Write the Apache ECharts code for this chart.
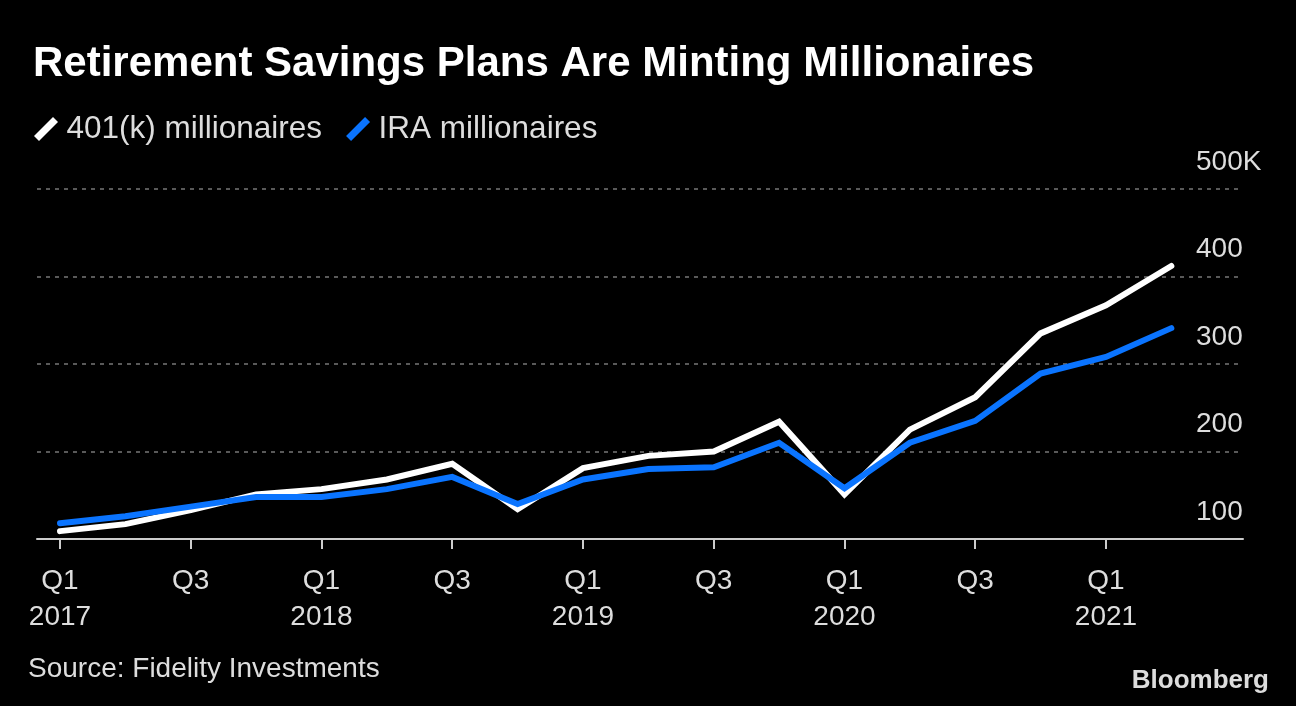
<!DOCTYPE html>
<html>
<head>
<meta charset="utf-8">
<script src="https://cdn.jsdelivr.net/npm/echarts@6/dist/echarts.min.js"></script>
<style>
  html, body { margin: 0; padding: 0; background: #000; }
  #chart { width: 1296px; height: 706px; }
</style>
</head>
<body>
<div id="chart"></div>
<script>
// ---- data ----
const quarters = ['Q1 2017','Q2 2017','Q3 2017','Q4 2017','Q1 2018','Q2 2018','Q3 2018','Q4 2018',
                  'Q1 2019','Q2 2019','Q3 2019','Q4 2019','Q1 2020','Q2 2020','Q3 2020','Q4 2020',
                  'Q1 2021','Q2 2021'];
const k401 = [109, 117, 133, 151, 157, 168, 186, 134, 181, 195, 200, 234, 151, 225, 262, 335, 367, 412];
const ira  = [118, 126, 137, 148, 148, 157, 171, 140, 168, 180, 182, 210, 158, 210, 235, 289, 308, 341];
const tickIdx = [0, 2, 4, 6, 8, 10, 12, 14, 16];
const yTicks = [100, 200, 300, 400, 500];

const FONT = '"Liberation Sans", Arial, sans-serif';
const chart = echarts.init(document.getElementById('chart'), null, { renderer: 'canvas' });

function pairs(arr) { return arr.map((v, i) => [i, v]); }
const slash = 'path://M0,19 L19,0 L24,5 L5,24 Z';

chart.setOption({
  backgroundColor: '#000',
  animation: false,
  title: {
    text: 'Retirement Savings Plans Are Minting Millionaires',
    left: 28, top: 38,
    textStyle: { color: '#fff', fontFamily: FONT, fontWeight: 'bold', fontSize: 42 }
  },
  legend: {
    left: 29, top: 108,
    itemWidth: 25, itemHeight: 24, itemGap: 24,
    icon: slash,
    textStyle: { color: '#ddd', fontFamily: FONT, fontSize: 31.5, lineHeight: 28, padding: [0, 0, 0, 3] },
    data: [
      { name: '401(k) millionaires', itemStyle: { color: '#fff' } },
      { name: 'IRA millionaires', itemStyle: { color: '#0a74ff' } }
    ]
  },
  grid: { left: 37, right: 53, top: 189, bottom: 167, containLabel: false },
  xAxis: {
    type: 'value',
    min: -0.352, max: 18.096,
    axisLine: { show: true, lineStyle: { color: '#ccc', width: 2 } },
    axisTick: { show: true, customValues: tickIdx, length: 10, lineStyle: { color: '#ccc', width: 2 } },
    axisLabel: {
      customValues: tickIdx,
      color: '#ddd', fontFamily: FONT, fontSize: 28, lineHeight: 36, margin: 24,
      formatter: function (v) {
        const q = quarters[Math.round(v)] || '';
        const parts = q.split(' ');
        return parts[0] === 'Q1' ? parts[0] + '\n' + parts[1] : parts[0];
      }
    },
    splitLine: { show: false }
  },
  yAxis: {
    type: 'value',
    position: 'right',
    min: 100, max: 500, interval: 100,
    axisLine: { show: false },
    axisTick: { show: false },
    axisLabel: {
      inside: true, align: 'left', verticalAlign: 'bottom',
      margin: 47, padding: [0, 0, 13, 0], lineHeight: 28,
      color: '#ddd', fontFamily: FONT, fontSize: 28,
      formatter: function (v) { return v === 500 ? '500K' : String(v); }
    },
    splitLine: { show: true, lineStyle: { color: '#777', width: 1.5, type: [4, 5] } }
  },
  series: [
    {
      name: '401(k) millionaires', type: 'line', data: pairs(k401),
      symbol: 'none', lineStyle: { color: '#fff', width: 6, cap: 'round', join: 'miter' },
      itemStyle: { color: '#fff' }, z: 3
    },
    {
      name: 'IRA millionaires', type: 'line', data: pairs(ira),
      symbol: 'none', lineStyle: { color: '#0a74ff', width: 6, cap: 'round', join: 'miter' },
      itemStyle: { color: '#0a74ff' }, z: 4
    }
  ],
  graphic: [
    {
      type: 'text', left: 28, top: 655,
      style: { text: 'Source: Fidelity Investments', fill: '#ddd', font: '28px ' + FONT }
    },
    {
      type: 'text', right: 27, top: 668,
      style: { text: 'Bloomberg', fill: '#ddd', font: 'bold 26px ' + FONT }
    }
  ]
});
</script>
</body>
</html>
